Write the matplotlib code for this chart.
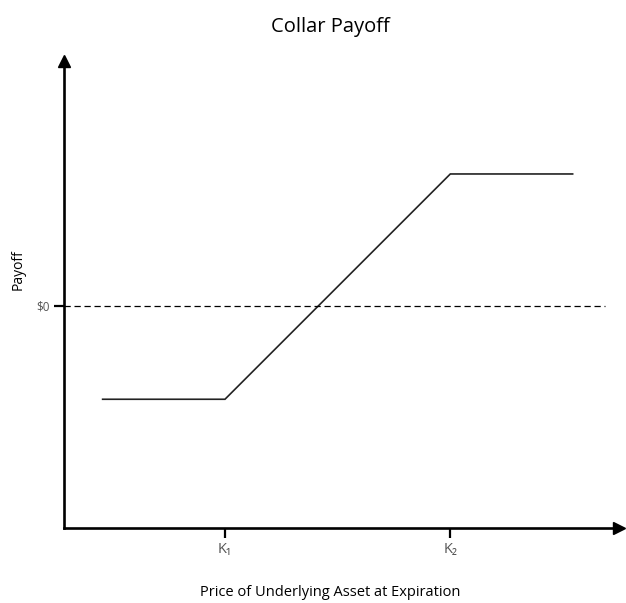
import matplotlib
matplotlib.use("Agg")
import matplotlib.pyplot as plt

plt.rcParams["font.family"] = ["Open Sans", "DejaVu Sans"]

# collar payoff: long stock bought at S0, long put K1, short call K2
PRICE = [12, 50, 120, 158]
PAYOFF = [-29, -29, 41, 41]
STRIKES = [50, 120]
STRIKE_LABELS = ["K\u2081", "K\u2082"]
XLIM = (0, 172.4)
YLIM = (-69, 76.1)

fig = plt.figure(figsize=(6.26, 6.03), dpi=100)
W, H = 626, 603
left, right, top, bottom = 64, 619, 61, 528
ax = fig.add_axes([left / W, 1 - bottom / H, (right - left) / W, (bottom - top) / H])

ax.plot(PRICE, PAYOFF, color="#222222", linewidth=1.2, solid_joinstyle="miter")
ax.plot([0, 168], [0, 0], color="black", linewidth=0.9, linestyle=(0, (5, 3)))

ax.set_xlim(*XLIM)
ax.set_ylim(*YLIM)
for s in ["top", "right"]:
    ax.spines[s].set_visible(False)
for s in ["left", "bottom"]:
    ax.spines[s].set_linewidth(1.9)

# arrow heads
ax.plot(1, 0, ">k", markersize=8, transform=ax.transAxes, clip_on=False)
ax.plot(0, 1, "^k", markersize=8, transform=ax.transAxes, clip_on=False)

ax.set_xticks(STRIKES)
ax.set_xticklabels(STRIKE_LABELS)
ax.set_yticks([0])
ax.set_yticklabels(["$0"])
ax.tick_params(axis="both", length=7, width=1.6, color="black", labelcolor="#555555", labelsize=8.5, pad=3)
ax.tick_params(axis="x", labelsize=10.5)

fig.text(330 / W, 1 - 27 / H, "Collar Payoff", ha="center", va="center", fontsize=14.5)
fig.text(330 / W, 1 - 593 / H, "Price of Underlying Asset at Expiration", ha="center", va="center", fontsize=10.5)
fig.text(18 / W, 1 - 270 / H, "Payoff", ha="center", va="center", rotation=90, fontsize=10)

fig.savefig("out.png", dpi=100)
